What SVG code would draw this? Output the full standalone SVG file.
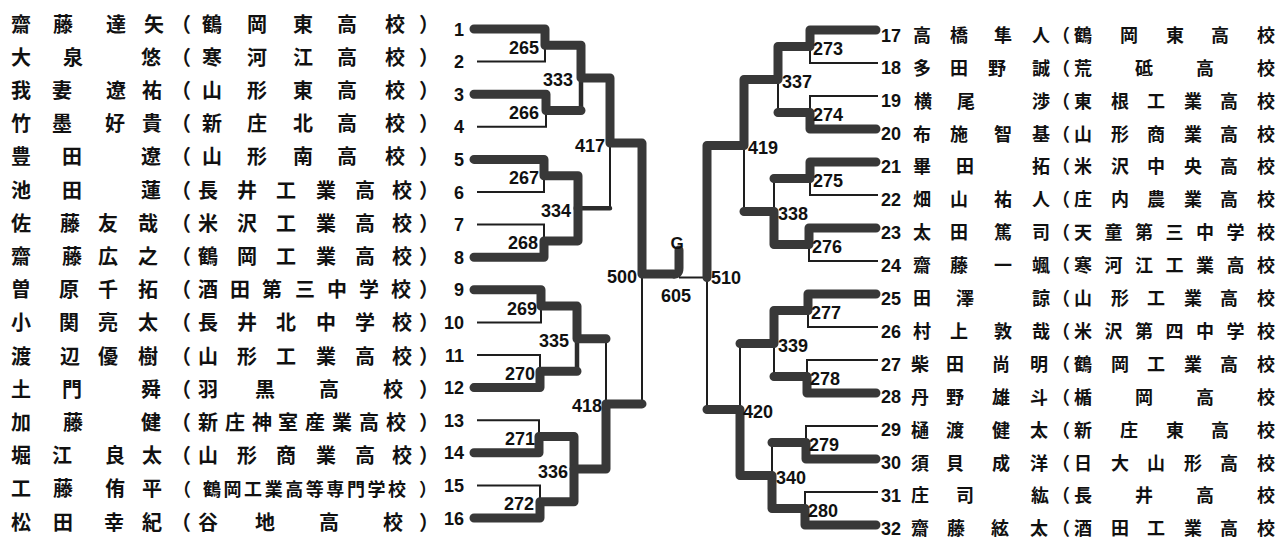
<svg xmlns="http://www.w3.org/2000/svg" width="1282" height="539" viewBox="0 0 1282 539">
<style>
.thk{fill:none;stroke:#383838;stroke-width:9;stroke-linecap:round;stroke-linejoin:round}
.med{fill:none;stroke:#2c2c2c;stroke-width:4.5;stroke-linecap:round}
.thn{fill:none;stroke:#1e1e1e;stroke-width:2}
.nl{font-family:"Noto Sans CJK JP","Noto Sans CJK SC",sans-serif;font-weight:700;font-size:20px;fill:#111;text-anchor:middle}
.nr{font-family:"Noto Sans CJK JP","Noto Sans CJK SC",sans-serif;font-weight:700;font-size:18px;fill:#111;text-anchor:middle}
.sm{font-size:18px}
.num{font-family:"Liberation Sans",Arial,sans-serif;font-weight:700;font-size:18px;fill:#111}
.ne{text-anchor:end}
.ns{text-anchor:start}
.nm{text-anchor:middle}
</style>
<rect width="1282" height="539" fill="#fff"/>

<g id="connectors">
<path class="thn" d="M477,61.6 H545 V45.3 M477,126.8 H546 V110.5 M477,192 H544 V175.7 M477,224.6 H544 V240.9 M477,322.4 H541 V306.1 M477,355 H540 V371.3 M477,420.2 H539 V436.5 M477,485.4 H540 V501.7 M610,208.3 V143.1 M606,338.7 V403.9 M642,403.9 V274"/>
<path class="med" d="M581,110.5 V77.9 M578,208.3 H610 M577,371.3 V338.7"/>
<path class="thk" d="M474,29 H545 V45.3 H581 V77.9 H610 V143.1 H642 V274 H673 Q679,275 679,268 V250"/>
<path class="thk" d="M474,94.2 H546 V110.5 H581"/>
<path class="thk" d="M474,159.4 H544 V175.7 H578 V208.3"/>
<path class="thk" d="M474,257.2 H544 V240.9 H578 V208.3"/>
<path class="thk" d="M474,289.8 H541 V306.1 H577 V338.7 H606"/>
<path class="thk" d="M474,387.6 H540 V371.3 H577"/>
<path class="thk" d="M474,452.8 H539 V436.5 H574 V469.1"/>
<path class="thk" d="M474,518 H540 V501.7 H574 V469.1 H606 V403.9 H642"/>

<path class="thn" d="M878,63 H810 V46.5 M878,96 H810 V112.5 M878,195 H810 V178.5 M878,261 H809 V244.5 M878,327 H808 V310.5 M878,360 H807 V376.5 M878,426 H806 V442.5 M878,492 H805 V508.5 M778,112.5 V79.5 M774,178.5 V211.5 M744,211.5 V145.5 M774,376.5 V343.5 M772,442.5 V475.5 M740,343.5 V409.5 M707,409.5 V277.5"/>
<path class="thn" d="M707,277.5 H679" stroke-width="1.5"/>
<path class="thk" d="M876,30 H810 V46.5 H778 V79.5 H744 V145.5 H707 V277.5"/>
<path class="thk" d="M876,129 H810 V112.5 H778"/>
<path class="thk" d="M876,162 H810 V178.5 H774"/>
<path class="thk" d="M876,228 H809 V244.5 H774 V211.5 H744"/>
<path class="thk" d="M876,294 H808 V310.5 H774 V343.5 H740"/>
<path class="thk" d="M876,393 H807 V376.5 H774"/>
<path class="thk" d="M876,459 H806 V442.5 H772"/>
<path class="thk" d="M876,525 H805 V508.5 H772 V475.5 H740 V409.5 H707"/>
</g>

<g id="p1"><text class="nl" x="21 63 116 154" y="31.5">齋藤達矢</text><text class="nl" x="181 212 257 303 347 395 429" y="31.5">（鶴岡東高校）</text><text class="num ne" x="464" y="35.5">1</text></g>
<g id="p2"><text class="nl" x="21 73 151" y="64.7">大泉悠</text><text class="nl" x="181 212 257 303 347 395 429" y="64.7">（寒河江高校）</text><text class="num ne" x="464" y="68.1">2</text></g>
<g id="p3"><text class="nl" x="21 62 116 152" y="97.9">我妻遼祐</text><text class="nl" x="181 212 257 303 347 395 429" y="97.9">（山形東高校）</text><text class="num ne" x="464" y="100.7">3</text></g>
<g id="p4"><text class="nl" x="21 62 115 152" y="131.1">竹墨好貴</text><text class="nl" x="181 212 257 303 347 395 429" y="131.1">（新庄北高校）</text><text class="num ne" x="464" y="133.3">4</text></g>
<g id="p5"><text class="nl" x="21 72 151" y="164.3">豊田遼</text><text class="nl" x="181 212 257 303 347 395 429" y="164.3">（山形南高校）</text><text class="num ne" x="464" y="165.9">5</text></g>
<g id="p6"><text class="nl" x="21 72 151" y="197.5">池田蓮</text><text class="nl" x="181 208 247 286 326 365 402 429" y="197.5">（長井工業高校）</text><text class="num ne" x="464" y="198.5">6</text></g>
<g id="p7"><text class="nl" x="21 70 108 148" y="230.7">佐藤友哉</text><text class="nl" x="181 208 247 286 326 365 402 429" y="230.7">（米沢工業高校）</text><text class="num ne" x="464" y="231.1">7</text></g>
<g id="p8"><text class="nl" x="21 72 108 148" y="263.9">齋藤広之</text><text class="nl" x="181 208 247 286 326 365 402 429" y="263.9">（鶴岡工業高校）</text><text class="num ne" x="464" y="263.7">8</text></g>
<g id="p9"><text class="nl" x="21 69 108 148" y="297.1">曽原千拓</text><text class="nl" x="181 208 240 272 305 337 369 401 429" y="297.1">（酒田第三中学校）</text><text class="num ne" x="464" y="296.3">9</text></g>
<g id="p10"><text class="nl" x="21 69 108 148" y="330.3">小関亮太</text><text class="nl" x="181 208 247 286 326 365 402 429" y="330.3">（長井北中学校）</text><text class="num ne" x="464" y="328.9">10</text></g>
<g id="p11"><text class="nl" x="21 70 108 148" y="363.5">渡辺優樹</text><text class="nl" x="181 208 247 286 326 365 402 429" y="363.5">（山形工業高校）</text><text class="num ne" x="464" y="361.5">11</text></g>
<g id="p12"><text class="nl" x="21 72 151" y="396.7">土門舜</text><text class="nl" x="181 208 265 329 393 429" y="396.7">（羽黒高校）</text><text class="num ne" x="464" y="394.1">12</text></g>
<g id="p13"><text class="nl" x="21 73 151" y="429.9">加藤健</text><text class="nl" x="181 208 235 262 288 315 342 369 396 429" y="429.9">（新庄神室産業高校）</text><text class="num ne" x="464" y="426.7">13</text></g>
<g id="p14"><text class="nl" x="21 62 115 152" y="463.1">堀江良太</text><text class="nl" x="181 208 247 286 326 365 402 429" y="463.1">（山形商業高校）</text><text class="num ne" x="464" y="459.3">14</text></g>
<g id="p15"><text class="nl" x="21 63 115 152" y="496.3">工藤侑平</text><text class="nl sm" x="182 212 232.6 253.1 273.7 294.2 314.8 335.3 355.9 376.4 397 428" y="495.8">（鶴岡工業高等専門学校）</text><text class="num ne" x="464" y="491.9">15</text></g>
<g id="p16"><text class="nl" x="21 63 114 152" y="529.5">松田幸紀</text><text class="nl" x="181 208 265 329 393 429" y="529.5">（谷地高校）</text><text class="num ne" x="464" y="524.5">16</text></g>

<g id="p17"><text class="num ns" x="881" y="41.5">17</text><text class="nr" x="922 959 1003 1041 1061 1083 1129 1175 1220 1266" y="41.8">高橋隼人（鶴岡東高校</text></g>
<g id="p18"><text class="num ns" x="881" y="74.4">18</text><text class="nr" x="922 959 997 1041 1061 1083 1144 1205 1266" y="74.7">多田野誠（荒砥高校</text></g>
<g id="p19"><text class="num ns" x="881" y="107.3">19</text><text class="nr" x="923 966 1041 1061 1083 1120 1156 1193 1229 1266" y="107.6">横尾渉（東根工業高校</text></g>
<g id="p20"><text class="num ns" x="881" y="140.2">20</text><text class="nr" x="922 959 1003 1041 1061 1083 1120 1156 1193 1229 1266" y="140.5">布施智基（山形商業高校</text></g>
<g id="p21"><text class="num ns" x="881" y="173.1">21</text><text class="nr" x="922 965 1041 1061 1083 1120 1156 1193 1229 1266" y="173.4">畢田拓（米沢中央高校</text></g>
<g id="p22"><text class="num ns" x="881" y="206">22</text><text class="nr" x="922 959 1003 1041 1061 1083 1120 1156 1193 1229 1266" y="206.3">畑山祐人（庄内農業高校</text></g>
<g id="p23"><text class="num ns" x="881" y="238.9">23</text><text class="nr" x="922 959 1003 1041 1061 1083 1113.5 1144 1174.5 1205 1235.5 1266" y="239.2">太田篤司（天童第三中学校</text></g>
<g id="p24"><text class="num ns" x="881" y="271.8">24</text><text class="nr" x="922 959 1003 1041 1061 1083 1113.5 1144 1174.5 1205 1235.5 1266" y="272.1">齋藤一颯（寒河江工業高校</text></g>
<g id="p25"><text class="num ns" x="881" y="304.7">25</text><text class="nr" x="922 965 1041 1061 1083 1120 1156 1193 1229 1266" y="305">田澤諒（山形工業高校</text></g>
<g id="p26"><text class="num ns" x="881" y="337.6">26</text><text class="nr" x="922 959 1003 1041 1061 1083 1113.5 1144 1174.5 1205 1235.5 1266" y="337.9">村上敦哉（米沢第四中学校</text></g>
<g id="p27"><text class="num ns" x="881" y="370.5">27</text><text class="nr" x="920 955 1001 1039 1061 1083 1120 1156 1193 1229 1266" y="370.8">柴田尚明（鶴岡工業高校</text></g>
<g id="p28"><text class="num ns" x="881" y="403.4">28</text><text class="nr" x="920 955 1001 1039 1061 1083 1144 1205 1266" y="403.7">丹野雄斗（楯岡高校</text></g>
<g id="p29"><text class="num ns" x="881" y="436.3">29</text><text class="nr" x="920 955 1001 1039 1061 1083 1129 1175 1220 1266" y="436.6">樋渡健太（新庄東高校</text></g>
<g id="p30"><text class="num ns" x="881" y="469.2">30</text><text class="nr" x="920 955 1001 1039 1061 1083 1120 1156 1193 1229 1266" y="469.5">須貝成洋（日大山形高校</text></g>
<g id="p31"><text class="num ns" x="881" y="502.1">31</text><text class="nr" x="920 965 1040 1061 1083 1144 1205 1266" y="502.4">庄司紘（長井高校</text></g>
<g id="p32"><text class="num ns" x="881" y="535">32</text><text class="nr" x="920 956 1000 1039 1061 1083 1120 1156 1193 1229 1266" y="535.3">齋藤絃太（酒田工業高校</text></g>

<g id="m265"><text class="num ne" x="539" y="53.8">265</text></g>
<g id="m266"><text class="num ne" x="539" y="119">266</text></g>
<g id="m267"><text class="num ne" x="539" y="184.2">267</text></g>
<g id="m268"><text class="num ne" x="538" y="249.4">268</text></g>
<g id="m269"><text class="num ne" x="537" y="314.6">269</text></g>
<g id="m270"><text class="num ne" x="535" y="379.8">270</text></g>
<g id="m271"><text class="num ne" x="535" y="445">271</text></g>
<g id="m272"><text class="num ne" x="534" y="510.2">272</text></g>
<g id="m333"><text class="num ne" x="573" y="86.4">333</text></g>
<g id="m334"><text class="num ne" x="571" y="216.8">334</text></g>
<g id="m335"><text class="num ne" x="569" y="347.2">335</text></g>
<g id="m336"><text class="num ne" x="568" y="477.6">336</text></g>
<g id="m417"><text class="num ne" x="605" y="151.6">417</text></g>
<g id="m418"><text class="num ne" x="602" y="412.4">418</text></g>
<g id="m500"><text class="num ne" x="637" y="282.5">500</text></g>

<g id="m273"><text class="num ns" x="813" y="55">273</text></g>
<g id="m274"><text class="num ns" x="813" y="121">274</text></g>
<g id="m275"><text class="num ns" x="813" y="187">275</text></g>
<g id="m276"><text class="num ns" x="812" y="253">276</text></g>
<g id="m277"><text class="num ns" x="811" y="319">277</text></g>
<g id="m278"><text class="num ns" x="810" y="385">278</text></g>
<g id="m279"><text class="num ns" x="809" y="451">279</text></g>
<g id="m280"><text class="num ns" x="808" y="517">280</text></g>
<g id="m337"><text class="num ns" x="782" y="88">337</text></g>
<g id="m338"><text class="num ns" x="778" y="220">338</text></g>
<g id="m339"><text class="num ns" x="778" y="352">339</text></g>
<g id="m340"><text class="num ns" x="776" y="484">340</text></g>
<g id="m419"><text class="num ns" x="748" y="154">419</text></g>
<g id="m420"><text class="num ns" x="743" y="418">420</text></g>
<g id="m510"><text class="num ns" x="711" y="284">510</text></g>

<g id="final"><text class="num nm" x="676" y="301.5">605</text><text class="num nm" x="677" y="249" style="font-size:17px">G</text></g>
</svg>
